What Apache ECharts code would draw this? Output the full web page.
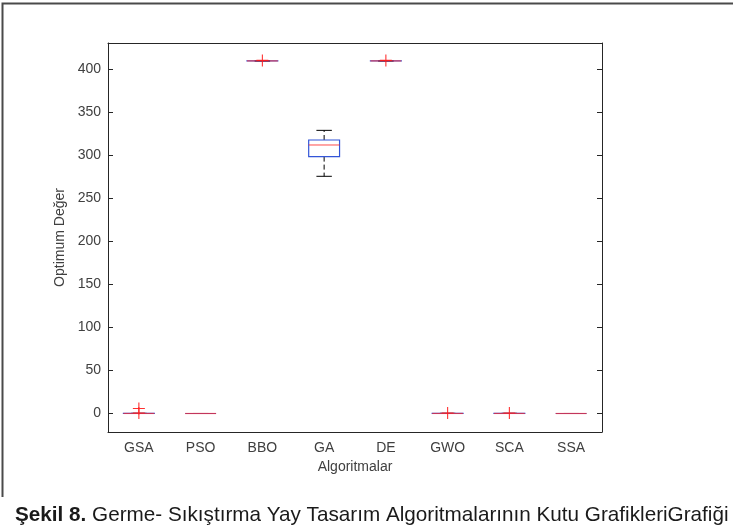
<!DOCTYPE html>
<html>
<head>
<meta charset="utf-8">
<script src="https://cdn.jsdelivr.net/npm/echarts@6/dist/echarts.min.js"></script>
<style>
  html, body { margin: 0; padding: 0; background: #fff; }
  #chart { width: 733px; height: 530px; }
</style>
</head>
<body>
<div id="chart"></div>
<script>
// Algorithms compared
var categories = ['GSA', 'PSO', 'BBO', 'GA', 'DE', 'GWO', 'SCA', 'SSA'];
// Box statistics per algorithm: [lower whisker, Q1, median, Q3, upper whisker]
var boxLow    = [0.0,   0.0,   409.5, 275.6, 409.5, 0.0,  0.0,  0.0];
var boxQ1     = [0.0,   0.0,   409.6, 298.5, 409.6, 0.0,  0.0,  0.0];
var boxMedian = [0.05,  0.0,   409.7, 312.0, 409.7, 0.05, 0.05, 0.0];
var boxQ3     = [0.1,   0.0,   409.8, 317.8, 409.8, 0.1,  0.1,  0.0];
var boxHigh   = [0.2,   0.0,   409.9, 329.0, 409.9, 0.2,  0.2,  0.0];
// Outliers: algorithm index and value
var outlierIndex = [0,   0,   2,     4,     5,   6];
var outlierValue = [5.8, 0.6, 410.3, 410.3, 0.5, 0.6];
// Axis settings
var yMin = -21.5, yMax = 430.5;

var boxData = categories.map(function (c, i) {
  return [i, boxLow[i], boxQ1[i], boxMedian[i], boxQ3[i], boxHigh[i]];
});
var outlierData = outlierIndex.map(function (idx, k) { return [idx, outlierValue[k]]; });

var axisColor = '#262626';
var labelColor = '#404040';
var fontFam = '"Liberation Sans", Arial, sans-serif';

function renderBox(params, api) {
  var idx = api.value(0);
  var band = api.size([1, 0])[0];
  var half = band * 0.25;     // box half-width
  var capHalf = band * 0.125; // whisker cap half-width
  var pLow = api.coord([idx, api.value(1)]);
  var pQ1 = api.coord([idx, api.value(2)]);
  var pMed = api.coord([idx, api.value(3)]);
  var pQ3 = api.coord([idx, api.value(4)]);
  var pHigh = api.coord([idx, api.value(5)]);
  var cx = pMed[0];
  var whisk = { stroke: '#000', lineWidth: 1, lineDash: [5, 3] };
  var cap = { stroke: '#000', lineWidth: 1 };
  return {
    type: 'group',
    children: [
      { type: 'line', shape: { x1: cx, y1: pQ3[1], x2: cx, y2: pHigh[1] }, style: whisk },
      { type: 'line', shape: { x1: cx, y1: pQ1[1], x2: cx, y2: pLow[1] }, style: whisk },
      { type: 'line', shape: { x1: cx - capHalf, y1: pHigh[1], x2: cx + capHalf, y2: pHigh[1] }, style: cap },
      { type: 'line', shape: { x1: cx - capHalf, y1: pLow[1], x2: cx + capHalf, y2: pLow[1] }, style: cap },
      { type: 'rect', shape: { x: cx - half, y: pQ3[1], width: half * 2, height: pQ1[1] - pQ3[1] },
        style: { fill: 'none', stroke: '#3355d8', lineWidth: 1.2 } },
      { type: 'line', shape: { x1: cx - half, y1: pMed[1], x2: cx + half, y2: pMed[1] },
        style: { stroke: '#ff2a2a', lineWidth: 1.2, opacity: 0.7 } }
    ]
  };
}

var chart = echarts.init(document.getElementById('chart'));
chart.setOption({
  animation: false,
  backgroundColor: '#ffffff',
  textStyle: { fontFamily: fontFam },
  grid: { left: 108, right: 131, top: 43, bottom: 98, containLabel: false },
  title: {
    left: 10, top: 500,
    text: '{b|Şekil 8.} Germe- Sıkıştırma Yay Tasarım Algoritmalarının Kutu GrafikleriGrafiği',
    textStyle: {
      fontFamily: fontFam,
      fontSize: 20.7, fontWeight: 'normal', color: '#1a1a1a',
      rich: { b: { fontFamily: fontFam, fontSize: 20.7, fontWeight: 'bold', color: '#1a1a1a' } }
    }
  },
  graphic: [
    { type: 'polyline', shape: { points: [[2.5, 497], [2.5, 3.5], [733, 3.5]] },
      style: { stroke: '#4a4a4a', lineWidth: 2, fill: 'none' } }
  ],
  xAxis: [
    {
      type: 'category', data: categories, position: 'bottom',
      name: 'Algoritmalar', nameLocation: 'middle', nameGap: 28,
      nameTextStyle: { fontSize: 14, color: labelColor },
      axisLine: { onZero: false, lineStyle: { color: axisColor, width: 1 } },
      axisTick: { inside: true, alignWithLabel: true, length: 5, lineStyle: { color: axisColor } },
      axisLabel: { fontSize: 14, color: labelColor, margin: 9 },
      splitLine: { show: false }
    },
    {
      type: 'category', data: categories, position: 'top',
      axisLine: { onZero: false, lineStyle: { color: axisColor, width: 1 } },
      axisTick: { inside: true, alignWithLabel: true, length: 5, lineStyle: { color: axisColor } },
      axisLabel: { show: false }, splitLine: { show: false }
    }
  ],
  yAxis: [
    {
      type: 'value', min: yMin, max: yMax, splitNumber: 9, position: 'left',
      name: 'Optimum Değer', nameLocation: 'middle', nameGap: 35,
      nameTextStyle: { fontSize: 14, color: labelColor },
      axisLine: { show: true, onZero: false, lineStyle: { color: axisColor, width: 1 } },
      axisTick: { show: true, inside: true, length: 5, lineStyle: { color: axisColor } },
      axisLabel: { fontSize: 14, color: labelColor, margin: 7, showMinLabel: false, showMaxLabel: false },
      splitLine: { show: false }
    },
    {
      type: 'value', min: yMin, max: yMax, splitNumber: 9, position: 'right',
      axisLine: { show: true, onZero: false, lineStyle: { color: axisColor, width: 1 } },
      axisTick: { show: true, inside: true, length: 5, lineStyle: { color: axisColor } },
      axisLabel: { show: false }, splitLine: { show: false }
    }
  ],
  series: [
    {
      type: 'custom', name: 'box', xAxisIndex: 0, yAxisIndex: 0,
      renderItem: renderBox, data: boxData,
      encode: { x: 0, y: [1, 2, 3, 4, 5] }
    },
    {
      type: 'scatter', name: 'outliers', xAxisIndex: 0, yAxisIndex: 0,
      data: outlierData,
      symbol: 'path://M-0.09,-1H0.09V-0.09H1V0.09H0.09V1H-0.09V0.09H-1V-0.09H-0.09Z',
      symbolSize: 12,
      itemStyle: { color: '#ff1a1a', opacity: 0.9 }
    }
  ]
});
</script>
</body>
</html>
